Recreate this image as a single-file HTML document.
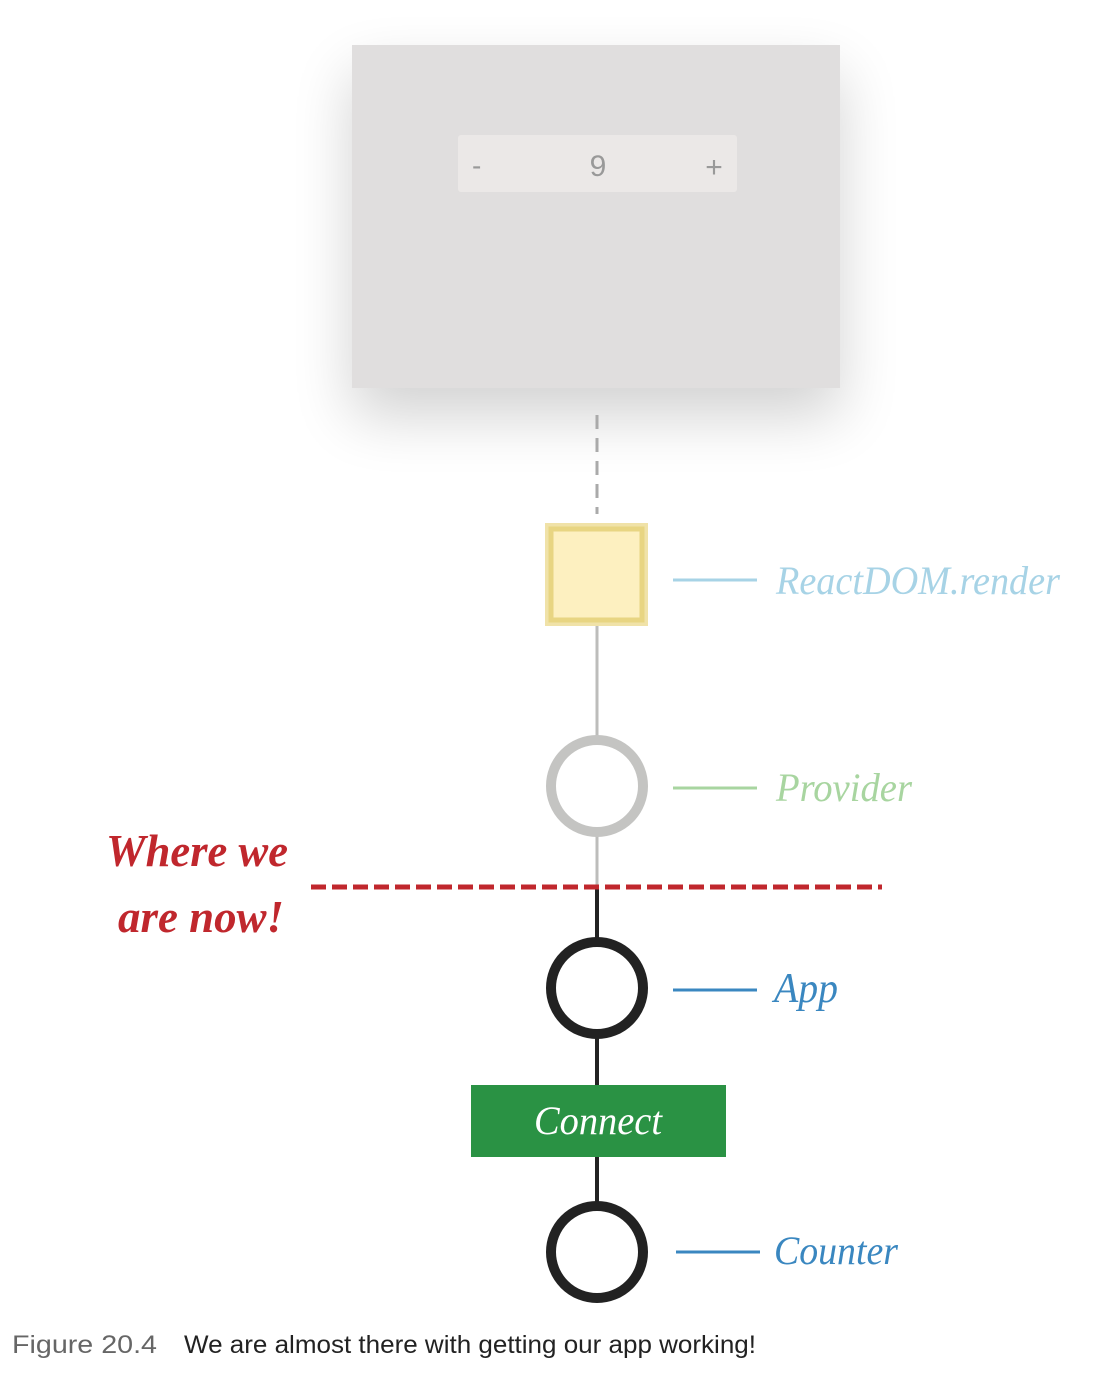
<!DOCTYPE html>
<html><head><style>
html,body{margin:0;padding:0;background:#fff;}
body{width:1094px;height:1378px;overflow:hidden;}
</style></head><body>
<svg width="1094" height="1378" viewBox="0 0 1094 1378" xmlns="http://www.w3.org/2000/svg">
<defs>
<filter id="sh" x="-40%" y="-40%" width="180%" height="190%">
<feGaussianBlur in="SourceAlpha" stdDeviation="30"/>
<feOffset dy="28"/>
<feComponentTransfer><feFuncA type="linear" slope="0.18"/></feComponentTransfer>
<feMerge><feMergeNode/><feMergeNode in="SourceGraphic"/></feMerge>
</filter>
</defs>
<rect x="352" y="45" width="488" height="343" fill="#e0dede" filter="url(#sh)"/>
<rect x="458" y="135" width="279" height="57" rx="3" fill="#ebe8e7"/>
<text x="472" y="175" font-family="Liberation Sans, sans-serif" font-size="28" fill="#999">-</text>
<text x="598" y="176" text-anchor="middle" font-family="Liberation Sans, sans-serif" font-size="30" fill="#999">9</text>
<text x="714" y="177" text-anchor="middle" font-family="Liberation Sans, sans-serif" font-size="30" fill="#999">+</text>
<line x1="597" y1="415" x2="597" y2="514" stroke="#aaa" stroke-width="3" stroke-dasharray="14,9"/>
<line x1="597" y1="626" x2="597" y2="887" stroke="#bdbdbb" stroke-width="3"/>
<line x1="597" y1="887" x2="597" y2="1205" stroke="#222" stroke-width="4"/>
<rect x="545" y="523" width="103" height="103" fill="#f0e2a8"/>
<rect x="551" y="529" width="91" height="91" fill="#fdf0c0" stroke="#e8d582" stroke-width="5"/>
<circle cx="597" cy="786" r="46" fill="#fff" stroke="#c4c4c2" stroke-width="10"/>
<circle cx="597" cy="988" r="46" fill="#fff" stroke="#222" stroke-width="10"/>
<rect x="471" y="1085" width="255" height="72" fill="#2a9244"/>
<circle cx="597" cy="1252" r="46" fill="#fff" stroke="#222" stroke-width="10"/>
<line x1="311" y1="887" x2="882" y2="887" stroke="#c0272d" stroke-width="5" stroke-dasharray="15,6"/>
<line x1="673" y1="580" x2="757" y2="580" stroke="#a7d3e6" stroke-width="3"/>
<line x1="673" y1="788" x2="757" y2="788" stroke="#a8d5a0" stroke-width="3"/>
<line x1="673" y1="990" x2="757" y2="990" stroke="#3a87c0" stroke-width="3"/>
<line x1="676" y1="1252" x2="760" y2="1252" stroke="#3a87c0" stroke-width="3"/>
<g font-family="Liberation Serif, serif" font-style="italic">
<text x="776" y="594" font-size="40" fill="#a7d3e6" textLength="284" lengthAdjust="spacingAndGlyphs">ReactDOM.render</text>
<text x="776" y="801" font-size="40" fill="#a8d5a0" textLength="136" lengthAdjust="spacingAndGlyphs">Provider</text>
<text x="774" y="1002" font-size="42" fill="#3a87c0" textLength="64" lengthAdjust="spacingAndGlyphs">App</text>
<text x="774" y="1264" font-size="40" fill="#3a87c0" textLength="124" lengthAdjust="spacingAndGlyphs">Counter</text>
<text x="534" y="1134" font-size="40" fill="#fff" textLength="128" lengthAdjust="spacingAndGlyphs">Connect</text>
<text x="106" y="866" font-size="46" font-weight="bold" fill="#c0272d" textLength="182" lengthAdjust="spacingAndGlyphs">Where we</text>
<text x="118" y="932" font-size="46" font-weight="bold" fill="#c0272d" textLength="166" lengthAdjust="spacingAndGlyphs">are now!</text>
</g>
<text x="12" y="1353" font-family="Liberation Sans, sans-serif" font-size="25" fill="#666" textLength="145" lengthAdjust="spacingAndGlyphs">Figure 20.4</text>
<text x="184" y="1353" font-family="Liberation Sans, sans-serif" font-size="25" fill="#222" textLength="572" lengthAdjust="spacingAndGlyphs">We are almost there with getting our app working!</text>
</svg>
</body></html>
